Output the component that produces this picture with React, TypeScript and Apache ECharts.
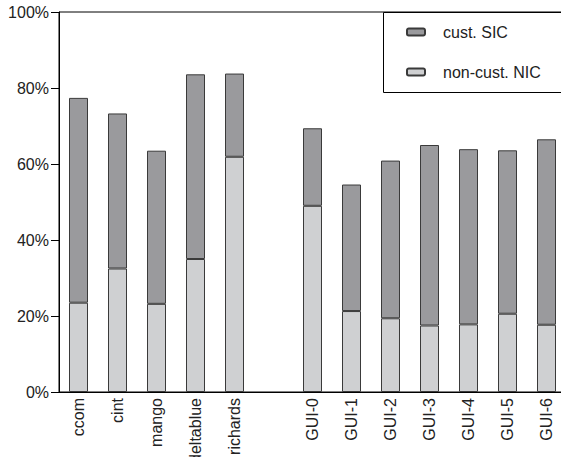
import React, { useEffect, useRef } from "react";
import * as echarts from "echarts";

// Benchmarks, with an empty slot separating the two groups
const categories = [
  "ccom", "cint", "mango", "deltablue", "richards", "",
  "GUI-0", "GUI-1", "GUI-2", "GUI-3", "GUI-4", "GUI-5", "GUI-6",
];

// Percent of calls, bottom segment
const nonCustNic = [23.5, 32.5, 23.2, 35.0, 61.9, null, 49.0, 21.3, 19.4, 17.5, 17.8, 20.6, 17.7];
// Percent of calls, top segment
const custSic = [53.9, 40.8, 40.3, 48.6, 21.9, null, 20.4, 33.3, 41.5, 47.5, 46.1, 43.0, 48.8];

const yTicks = [0, 20, 40, 60, 80, 100];

const FONT = "Liberation Sans, Arial, Helvetica, sans-serif";

export default function App() {
  const ref = useRef<HTMLDivElement>(null);

  useEffect(() => {
    if (!ref.current) return;
    const chart = echarts.init(ref.current, null, { renderer: "svg" });
    chart.setOption({
      animation: false,
      backgroundColor: "#fff",
      textStyle: { fontFamily: FONT },
      grid: {
        left: 59,
        top: 12,
        bottom: 65,
        width: 507,
        containLabel: false,
        outerBoundsMode: "none",
        show: true,
        borderColor: "#000",
        borderWidth: 1,
        backgroundColor: "transparent",
      },
      legend: {
        orient: "vertical",
        left: 401,
        top: 19,
        itemWidth: 18,
        itemHeight: 7,
        itemGap: 24,
        data: ["cust. SIC", "non-cust. NIC"],
        textStyle: {
          fontFamily: FONT,
          fontSize: 16,
          color: "#222",
          padding: [0, 0, 0, 13],
        },
      },
      graphic: [
        {
          type: "rect",
          z: 1,
          shape: { x: 383.5, y: 12.5, width: 200, height: 80 },
          style: { fill: "#fff", stroke: "#000", lineWidth: 1 },
        },
      ],
      xAxis: {
        type: "category",
        data: categories,
        axisLine: { show: true, lineStyle: { color: "#000", width: 1 } },
        axisTick: { show: false },
        axisLabel: {
          interval: 0,
          rotate: 90,
          margin: 6,
          fontSize: 16,
          color: "#222",
          fontFamily: FONT,
        },
      },
      yAxis: {
        type: "value",
        min: yTicks[0],
        max: yTicks[yTicks.length - 1],
        interval: 20,
        splitLine: { show: false },
        axisLine: { show: true, lineStyle: { color: "#000", width: 1 } },
        axisTick: { show: true, length: 8, lineStyle: { color: "#000" } },
        axisLabel: {
          formatter: "{value}%",
          margin: 10,
          fontSize: 16,
          color: "#222",
          fontFamily: FONT,
        },
      },
      series: [
        {
          name: "non-cust. NIC",
          type: "bar",
          stack: "total",
          barWidth: 19,
          data: nonCustNic,
          itemStyle: { color: "#cfd0d2", borderColor: "#3a3a3a", borderWidth: 1 },
        },
        {
          name: "cust. SIC",
          type: "bar",
          stack: "total",
          barWidth: 19,
          data: custSic,
          itemStyle: { color: "#9a9a9d", borderColor: "#3a3a3a", borderWidth: 1 },
        },
      ],
    });
    return () => chart.dispose();
  }, []);

  return (
    <div
      ref={ref}
      style={{ position: "absolute", left: 0, top: 0, width: 561, height: 457 }}
    />
  );
}
